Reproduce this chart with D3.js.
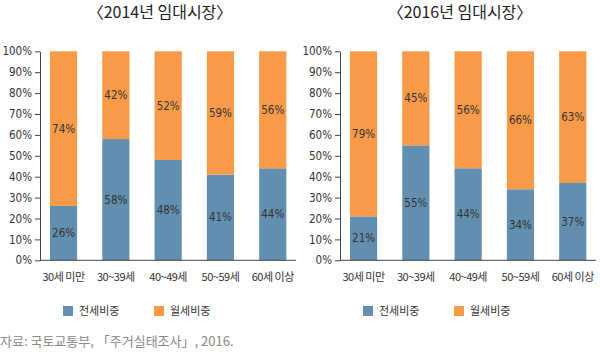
<!DOCTYPE html>
<html>
<head>
<meta charset="utf-8">
<script src="https://cdn.jsdelivr.net/npm/d3@7"></script>
<style>
  body { margin: 0; background: #fff; }
  svg text { font-family: "Liberation Sans Narrow", "DejaVu Sans Condensed", "Noto Sans CJK KR", sans-serif; fill: #333; }
  svg text.kr { font-family: "Noto Sans CJK KR", "Noto Sans", sans-serif; }
</style>
</head>
<body>
<div id="chart"></div>
<script>
// 데이터
const ageGroups = ['30세 미만', '30~39세', '40~49세', '50~59세', '60세 이상'];
const jeonse2014 = [26, 58, 48, 41, 44];
const wolse2014 = [74, 42, 52, 59, 56];
const jeonse2016 = [21, 55, 44, 34, 37];
const wolse2016 = [79, 45, 56, 66, 63];
const yTicks = [0, 10, 20, 30, 40, 50, 60, 70, 80, 90, 100];
const seriesNames = ['전세비중', '월세비중'];
const titles = ['〈2014년 임대시장〉', '〈2016년 임대시장〉'];

const colors = { blue: '#628faf', orange: '#f89b48' };

const svg = d3.select('#chart').append('svg')
    .attr('width', 600)
    .attr('height', 354);

function drawPanel(offsetX, title, jeonse, wolse) {
    const g = svg.append('g').attr('transform', `translate(${offsetX},0)`);

    const axisX = 40, axisEnd = 296;
    const y = d3.scaleLinear().domain([0, 100]).range([260.3, 51.3]);
    const x = d3.scaleBand().domain(ageGroups)
        .range([37.4, 298.9]).paddingInner(0.48).paddingOuter(0.24);

    // title
    g.append('text')
        .attr('class', 'kr')
        .attr('x', 160)
        .attr('y', 18)
        .attr('text-anchor', 'middle')
        .style('font-size', '16px')
        .style('fill', '#222')
        .text(title);

    // bars
    const rows = ageGroups.map((a, i) => ({ age: a, j: jeonse[i], w: wolse[i] }));

    g.selectAll('.bar-j').data(rows).enter().append('rect')
        .attr('x', d => x(d.age))
        .attr('width', x.bandwidth())
        .attr('y', d => y(d.j))
        .attr('height', d => y(0) - y(d.j))
        .attr('fill', colors.blue);

    g.selectAll('.bar-w').data(rows).enter().append('rect')
        .attr('x', d => x(d.age))
        .attr('width', x.bandwidth())
        .attr('y', y(100))
        .attr('height', d => y(d.j) - y(100))
        .attr('fill', colors.orange);

    // value labels
    g.selectAll('.lab-j').data(rows).enter().append('text')
        .attr('x', d => x(d.age) + x.bandwidth() / 2)
        .attr('y', d => y(d.j / 2))
        .attr('dy', '0.35em')
        .attr('text-anchor', 'middle')
        .style('font-size', '11.5px')
        .text(d => d.j + '%');

    g.selectAll('.lab-w').data(rows).enter().append('text')
        .attr('x', d => x(d.age) + x.bandwidth() / 2)
        .attr('y', d => y(d.j + (100 - d.j) / 2))
        .attr('dy', '0.35em')
        .attr('text-anchor', 'middle')
        .style('font-size', '11.5px')
        .text(d => d.w + '%');

    // y axis
    const yAxis = g.append('g')
        .attr('transform', `translate(${axisX},0)`)
        .call(d3.axisLeft(y).tickValues(yTicks).tickFormat(d => d + '%').tickSize(5).tickSizeOuter(0));
    yAxis.attr('font-family', null);
    yAxis.select('.domain').attr('stroke', '#444');
    yAxis.selectAll('.tick line').attr('stroke', '#444');
    yAxis.selectAll('text')
        .attr('x', -8)
        .style('font-size', '11.5px')
        .style('fill', '#333');

    // x axis line
    g.append('line')
        .attr('x1', axisX).attr('x2', axisEnd)
        .attr('y1', y(0)).attr('y2', y(0))
        .attr('stroke', '#444');

    // x labels
    g.selectAll('.xlab').data(ageGroups).enter().append('text')
        .attr('class', 'kr')
        .attr('x', d => x(d) + x.bandwidth() / 2)
        .attr('y', 277)
        .attr('dy', '0.35em')
        .attr('text-anchor', 'middle')
        .style('font-size', '11px')
        .style('letter-spacing', '-0.5px')
        .text(d => d);

    // legend
    const legendX = [63, 154];
    seriesNames.forEach((name, i) => {
        g.append('rect')
            .attr('x', legendX[i]).attr('y', 306)
            .attr('width', 10).attr('height', 10)
            .attr('fill', i === 0 ? colors.blue : colors.orange);
        g.append('text')
            .attr('class', 'kr')
            .attr('x', legendX[i] + 16)
            .attr('y', 311)
            .attr('dy', '0.35em')
            .style('font-size', '11px')
            .text(name);
    });
}

drawPanel(0, titles[0], jeonse2014, wolse2014);
drawPanel(300, titles[1], jeonse2016, wolse2016);

// source
svg.append('text')
    .attr('class', 'kr')
    .attr('x', 0)
    .attr('y', 341)
    .attr('dy', '0.35em')
    .style('font-size', '13px')
    .style('fill', '#888')
    .text('자료: 국토교통부, 「주거실태조사」, 2016.');
</script>
</body>
</html>
